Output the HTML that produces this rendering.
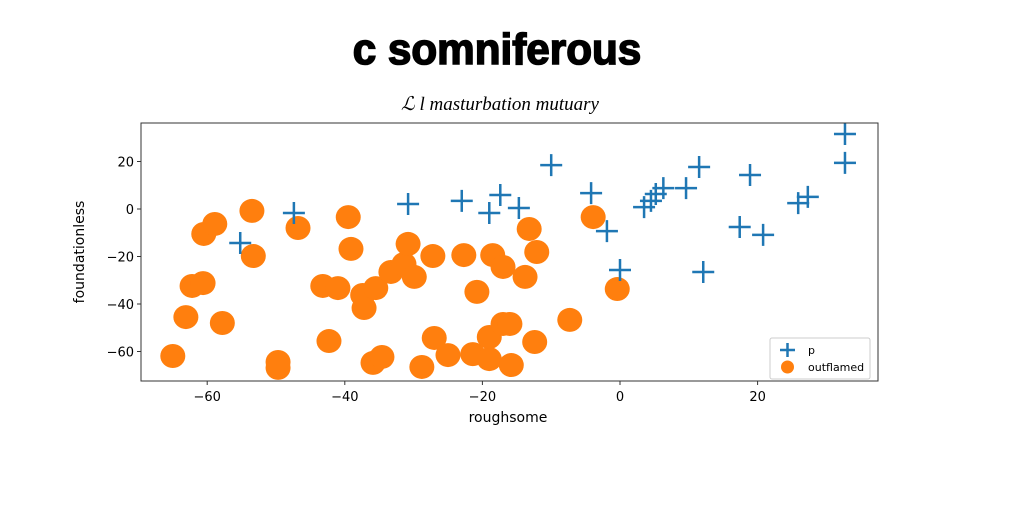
<!DOCTYPE html>
<html><head><meta charset="utf-8"><style>
body{margin:0;background:#fff;}
svg{display:block;font-family:"DejaVu Sans","Liberation Sans",sans-serif;}
</style></head><body>
<svg id="chart" width="1024" height="512">
<text x="497" y="64" text-anchor="middle" font-family="Liberation Sans Narrow, Liberation Sans, sans-serif" font-weight="bold" font-size="44" stroke="#000" stroke-width="1.6" transform="translate(497,0) scale(0.96,1) translate(-497,0)">c somniferous</text>
<text x="500" y="110" text-anchor="middle" font-family="Liberation Serif, serif" font-style="italic" font-size="19">ℒ l masturbation mutuary</text>
<g id="plot"></g>
<rect x="141" y="123" width="737" height="258" fill="none" stroke="#333" stroke-width="1"/>
<text x="508" y="422" text-anchor="middle" font-size="14">roughsome</text>
<text transform="translate(84,252) rotate(-90)" text-anchor="middle" font-size="14">foundationless</text>
<g>
<rect x="770" y="338" width="100" height="41" fill="#fff" stroke="#ccc" rx="2"/>
<g>
<path d="M780 350h15M787.5 343v14" stroke="#1f77b4" stroke-width="2.5"/>
<text x="808" y="354" font-size="11">p</text></g>
<g>
<circle cx="787.5" cy="367" r="6.5" fill="#ff7f0e"/>
<text x="808" y="371" font-size="11">outflamed</text></g>
</g>
</svg>
<script>
const xTicks=[-60,-40,-20,0,20];
const yTicks=[20,0,-20,-40,-60];
const pX=[-55.2,-47.4,-30.8,-23.0,-19.0,-17.4,-14.7,-10.0,-4.2,-1.9,0,3.5,4.5,5.2,6.3,9.6,11.5,12.1,17.4,18.9,20.8,25.9,27.3,32.7,32.7];
const pY=[-14.3,-1.7,2.1,3.4,-1.7,5.9,0.4,18.5,6.7,-9.3,-25.7,0.8,3.4,6.3,8.8,8.8,17.7,-26.5,-7.6,14.3,-10.9,2.5,5.1,31.6,19.4];
const oX=[-65.0,-63.1,-57.8,-62.2,-60.6,-60.5,-58.9,-53.5,-53.3,-49.7,-49.7,-46.8,-43.2,-41.0,-42.3,-39.5,-39.1,-37.2,-37.4,-35.5,-35.9,-34.6,-33.3,-31.4,-30.8,-29.9,-28.8,-27.2,-27.0,-25.0,-22.7,-20.8,-21.4,-19.0,-19.0,-18.5,-17.0,-17.0,-15.8,-13.2,-12.1,-13.8,-16.0,-12.4,-7.3,-3.9,-0.4];
const oY=[-61.9,-45.5,-48.0,-32.4,-31.2,-10.5,-6.3,-0.8,-19.8,-64.4,-66.9,-8.0,-32.4,-33.3,-55.6,-3.4,-16.8,-41.7,-36.2,-33.3,-64.8,-62.3,-26.5,-23.2,-14.7,-28.6,-66.5,-19.8,-54.3,-61.5,-19.4,-34.9,-61.1,-63.2,-53.9,-19.4,-24.4,-48.4,-65.7,-8.4,-18.1,-28.6,-48.4,-56.0,-46.7,-3.4,-33.7];
const sx=v=>620+v*6.88;
const sy=v=>209-v*2.375;
const NS='http://www.w3.org/2000/svg';
const g=document.getElementById('plot');
function mk(t,a){const e=document.createElementNS(NS,t);for(const k in a)e.setAttribute(k,a[k]);g.appendChild(e);return e;}
xTicks.forEach(t=>{
 const l=mk('line',{x1:sx(t),x2:sx(t),y1:381,y2:385,stroke:'#333'});
 
 
 const tx=mk('text',{x:sx(t),y:401,'text-anchor':'middle','font-size':13});
 tx.textContent=(t<0?'\u2212'+(-t):t);
 
 
});
yTicks.forEach(t=>{
 const l=mk('line',{x1:137,x2:141,y1:sy(t),y2:sy(t),stroke:'#333'});
 
 
 const tx=mk('text',{x:134,y:sy(t)+5,'text-anchor':'end','font-size':13});
 tx.textContent=(t<0?'\u2212'+(-t):t);
 
 
});
oX.forEach((v,i)=>{
 const c=mk('ellipse',{cx:sx(v),cy:sy(oY[i]),rx:12.5,ry:12,fill:'#ff7f0e'});
 
 
});
pX.forEach((v,i)=>{
 const x=sx(v),y=sy(pY[i]);
 const p=mk('path',{d:`M${x-11} ${y}h22M${x} ${y-11}v22`,stroke:'#1f77b4','stroke-width':2.5});
 
 
});
</script>
</body></html>
